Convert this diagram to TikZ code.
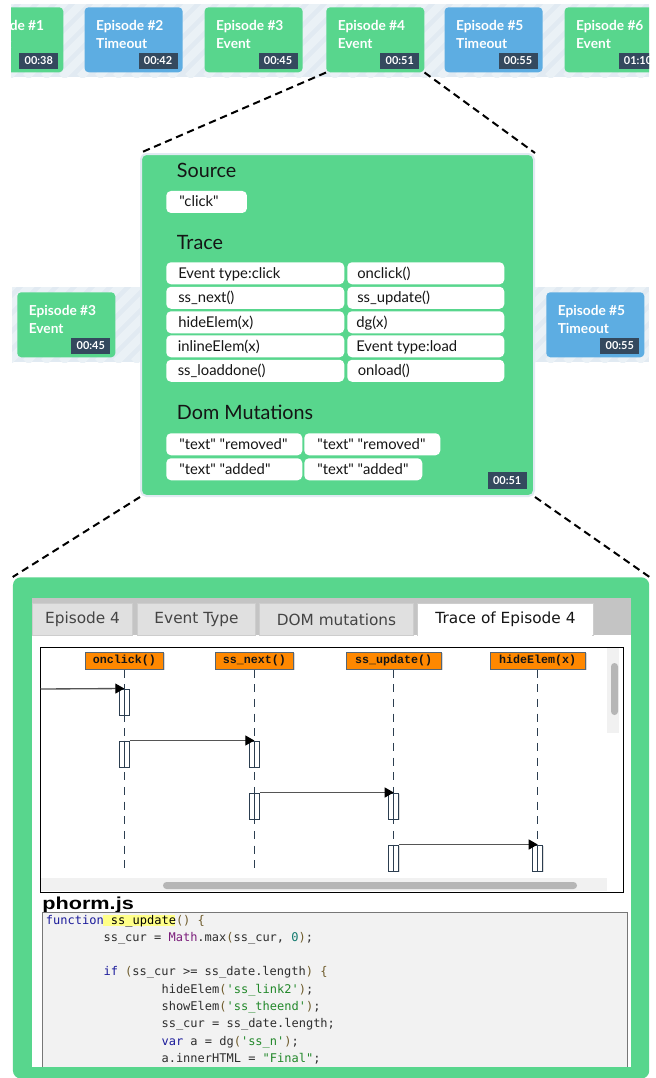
\documentclass[tikz,border=0pt]{standalone}
\usepackage{fontspec}
\setmainfont{Lato}[Ligatures=TeXOff]
\setmonofont{DejaVu Sans Mono}
\newfontfamily\tabfont{DejaVu Sans}
\newfontfamily\headmono{Liberation Mono}
\newfontfamily\filefont{Liberation Sans}
\usetikzlibrary{arrows.meta,shadows}

\definecolor{epgreen}{HTML}{58D68D}
\definecolor{epblue}{HTML}{5DADE2}
\definecolor{badge}{HTML}{34495E}
\definecolor{bandbase}{HTML}{E1EAF2}
\definecolor{bandstripe}{HTML}{EAF1F6}
\definecolor{ink}{HTML}{151515}
\definecolor{tabgray}{HTML}{C4C4C4}
\definecolor{tabfill}{HTML}{E0E0E0}
\definecolor{tabline}{HTML}{CDCDCD}
\definecolor{tabtext}{HTML}{444444}
\definecolor{headorange}{HTML}{FF8800}
\definecolor{slate}{HTML}{2C3E50}
\definecolor{msgline}{HTML}{555555}
\definecolor{track}{HTML}{F1F1F1}
\definecolor{thumb}{HTML}{B6B6B6}
\definecolor{codebg}{HTML}{F2F2F2}
\definecolor{codeedge}{HTML}{777777}
\definecolor{codekw}{HTML}{1B1B9B}
\definecolor{codeid}{HTML}{2E2E2E}
\definecolor{codepurple}{HTML}{7B1E7B}
\definecolor{codenum}{HTML}{127A6E}
\definecolor{codestr}{HTML}{22882A}
\definecolor{codepunct}{HTML}{6E5B2B}
\definecolor{hlyellow}{HTML}{FFFF88}

% light diagonal-striped strip behind a row of episode tiles
\newcommand\stripeband[4]{%
  \begin{scope}
    \clip (#1,#2) rectangle (#3,#4);
    \fill[bandbase] (#1,#2) rectangle (#3,#4);
    \foreach \s in {-100,-82,...,700}
      \draw[bandstripe, line width=6pt] (\s,#4) -- ++(90,-90);
  \end{scope}}

% episode tile: name, x, y, colour, title, kind, time
\newcommand\eptile[7]{%
  \node[tilebox, fill=#4] (#1) at (#2,#3) {};
  \node[tiletext] (#1-a) at ([shift={(11.5,23.5)}]#1.north west) {#5};
  \node[tiletext] (#1-b) at ([shift={(11.5,41.8)}]#1.north west) {#6};
  \node[badgebox] (#1-c) at ([shift={(-5,-3)}]#1.south east) {#7};}

% white rounded cell with its text: name, x, y, width, text offset, text
\newcommand\tcell[6]{%
  \node[cellbox, minimum width=#4] (#1) at (#2,#3) {};
  \node[celltext] (#1-t) at ([shift={(#5,16)}]#1.north west) {#6};}

\tikzset{
  tilebox/.style={rectangle, rounded corners=3pt, minimum width=73.5pt,
    minimum height=48.75pt, anchor=north west, inner sep=0pt},
  tiletext/.style={anchor=base west, inner sep=0pt, text=white,
    font=\fontsize{10.3pt}{12pt}\selectfont\bfseries},
  badgebox/.style={anchor=south east, fill=badge, text=white, inner sep=0pt,
    minimum width=29.25pt, minimum height=12.5pt,
    font=\fontsize{8.2pt}{10pt}\selectfont\bfseries},
  heading/.style={anchor=base west, inner sep=0pt, text=ink,
    font=\fontsize{14.8pt}{17pt}\selectfont},
  cellbox/.style={anchor=north west, fill=white, rounded corners=3.5pt,
    minimum height=16.5pt, inner sep=0pt},
  celltext/.style={anchor=base west, inner sep=0pt, text=ink,
    font=\fontsize{11.1pt}{13pt}\selectfont},
  zoomline/.style={black, line width=1.5pt, dash pattern=on 5.5pt off 3.5pt},
  tabbox/.style={anchor=north west, fill=tabfill, draw=tabline, line width=0.75pt,
    minimum height=24pt, inner sep=0pt, text=tabtext,
    font=\tabfont\fontsize{11.5pt}{13pt}\selectfont},
  lifehead/.style={fill=headorange, draw=slate!80, line width=0.75pt,
    minimum height=12.75pt, inner sep=0pt, text=ink,
    font=\headmono\bfseries\fontsize{8.75pt}{10pt}\selectfont,
    drop shadow={shadow xshift=1pt, shadow yshift=-1pt, fill=black!30}},
  lifeline/.style={slate, line width=0.75pt, dash pattern=on 6pt off 5pt},
  actbox/.style={fill=white, draw=slate, line width=0.75pt, minimum width=7.5pt,
    minimum height=19.5pt, inner sep=0pt,
    drop shadow={shadow xshift=0.8pt, shadow yshift=-0.8pt, fill=black!25}},
  actline/.style={slate, line width=0.75pt},
  msg/.style={msgline, line width=1pt,
    -{Triangle[length=6.75pt, width=7.5pt, color=black]}},
  codeline/.style={anchor=base west, inner sep=0pt, text=codeid,
    font=\ttfamily\fontsize{9pt}{11pt}\selectfont},
}

\begin{document}
\begin{tikzpicture}[x=0.75pt, y=-0.75pt]
\useasboundingbox (0,0) rectangle (656,1078);
\fill[white] (0,0) rectangle (656,1078);

% ---------- timeline of episodes ----------
\stripeband{11}{4}{649}{77}
\begin{scope}
  \clip (11,0) rectangle (649,80);
  \eptile{ep1}{-35}{7}{epgreen}{Episode \#1}{Event}{00:38}
  \eptile{ep2}{84.3}{7}{epblue}{Episode \#2}{Timeout}{00:42}
  \eptile{ep3}{204.3}{7}{epgreen}{Episode \#3}{Event}{00:45}
  \eptile{ep4}{326}{7}{epgreen}{Episode \#4}{Event}{00:51}
  \eptile{ep5}{444.3}{7}{epblue}{Episode \#5}{Timeout}{00:55}
  \eptile{ep6}{564.3}{7}{epgreen}{Episode \#6}{Event}{01:10}
\end{scope}

% ---------- neighbours of the selected episode ----------
\stripeband{12}{287}{649}{362}
\eptile{nb3}{17}{292}{epgreen}{Episode \#3}{Event}{00:45}
\eptile{nb5}{546}{292}{epblue}{Episode \#5}{Timeout}{00:55}

% ---------- detail card of episode 4 ----------
\node[rectangle, rounded corners=4pt, fill=epgreen, draw=bandbase, line width=1.5pt,
  minimum width=294.75pt, minimum height=256.5pt, anchor=north west, inner sep=0pt]
  (panel) at (140,153) {};

\node[heading] (srchead) at (176.7,177.5) {Source};
\tcell{src}{166}{190.7}{60.5pt}{13}{"click"}

\node[heading] (trhead) at (176.7,249.5) {Trace};
\tcell{t11}{166}{262}{133.5pt}{12}{Event type:click}
\tcell{t12}{347}{262}{117.75pt}{10}{onclick()}
\tcell{t21}{166}{286.5}{133.5pt}{12}{ss\_next()}
\tcell{t22}{347}{286.5}{117.75pt}{10}{ss\_update()}
\tcell{t31}{166}{311}{133.5pt}{12}{hideElem(x)}
\tcell{t32}{347}{311}{117.75pt}{9}{dg(x)}
\tcell{t41}{166}{335}{133.5pt}{11.5}{inlineElem(x)}
\tcell{t42}{347}{335}{117.75pt}{9}{Event type:load}
\tcell{t51}{166}{359.5}{133.5pt}{11.5}{ss\_loaddone()}
\tcell{t52}{347}{359.5}{117.75pt}{10.5}{onload()}

\node[heading] (domhead) at (176.7,419.5) {Dom Mutations};
\tcell{d11}{166}{433}{102pt}{13}{"text" "removed"}
\tcell{d12}{304}{433}{102pt}{13}{"text" "removed"}
\tcell{d21}{166}{458}{102pt}{13}{"text" "added"}
\tcell{d22}{304}{458}{88.5pt}{13}{"text" "added"}
\node[badgebox] (pbadge) at (527,489) {00:51};

% ---------- inspector window ----------
\node[rectangle, rounded corners=6pt, fill=epgreen, minimum width=477.2pt,
  minimum height=376pt, anchor=north west, inner sep=0pt] (frame) at (12.7,577) {};
\fill[white] (32,598) rectangle (631,1067);
\fill[tabgray] (32,598) rectangle (631,635);

\node[tabbox, minimum width=75pt] (tab1) at (32,603) {Episode 4\hspace{5pt}};
\node[tabbox, minimum width=88.5pt] (tab2) at (137,603) {Event Type};
\node[tabbox, minimum width=115.5pt] (tab3) at (259,603) {DOM mutations};
\node[tabbox, minimum width=132pt, fill=white, text=ink] (tab4) at (417,603) {Trace of Episode 4};
\fill[white] (417.8,632) rectangle (592.2,636);

% sequence diagram view
\node[rectangle, draw=black, line width=0.75pt, fill=white, anchor=north west,
  minimum width=437.25pt, minimum height=183.75pt, inner sep=0pt] (seq) at (40,647) {};
\fill[track] (607,648) rectangle (619,733);
\fill[thumb, rounded corners=2.6pt] (611,663) rectangle (618,715);
\fill[track] (41,878) rectangle (607,891);
\fill[thumb, rounded corners=2.6pt] (163,882) rectangle (577,889);

\node[lifehead, minimum width=58.5pt] (h1) at (124.3,660.5) {onclick()};
\node[lifehead, minimum width=58.5pt] (h2) at (254.3,660.5) {ss\_next()};
\node[lifehead, minimum width=71.25pt] (h3) at (393.7,660.5) {ss\_update()};
\node[lifehead, minimum width=71.25pt] (h4) at (537.7,660.5) {hideElem(x)};

\coordinate (e1) at (124.3,870);
\coordinate (e2) at (254.3,870);
\coordinate (e3) at (393.7,870);
\coordinate (e4) at (537.7,870);
\draw[lifeline] (h1.south) -- (e1);
\draw[lifeline] (h2.south) -- (e2);
\draw[lifeline] (h3.south) -- (e3);
\draw[lifeline] (h4.south) -- (e4);

\node[actbox] (a1) at (124.3,702) {};
\node[actbox] (a2) at (124.3,754) {};
\node[actbox] (b2) at (254.3,754) {};
\node[actbox] (b3) at (254.3,806) {};
\node[actbox] (c3) at (393.7,806) {};
\node[actbox] (c4) at (393.7,858) {};
\node[actbox] (d4) at (537.7,858) {};
\foreach \n in {a1,a2,b2,b3,c3,c4,d4}
  \draw[actline] (\n.north) -- (\n.south);

\coordinate (caller) at (40.5,689);
\draw[msg] (caller) -- (a1.north);
\draw[msg] (a2.north east) -- (b2.north);
\draw[msg] (b3.north east) -- (c3.north);
\draw[msg] (c4.north east) -- (d4.north);

% source listing
\node[anchor=base west, inner sep=0pt, font=\filefont\bfseries\fontsize{13pt}{15pt}\selectfont,
  xscale=1.25] (fname) at (42,909.3) {phorm.js};
\fill[codebg] (42,912) rectangle (627,1067);
\draw[codeedge, line width=0.75pt] (42,1067) -- (42,912) -- (627,912) -- (627,1067);
\fill[hlyellow] (102.7,914.5) rectangle (175.3,926);

\node[codeline] (l1) at (45.7,924) {{\color{codekw}function} {\color{black}ss\_update}{\color{codepunct}() \{}};
\node[codeline] (l2) at (103.3,941.3) {ss\_cur = {\color{codepurple}Math}.max{\color{codepunct}(}ss\_cur, {\color{codenum}0}{\color{codepunct})};};
\node[codeline] (l4) at (103.3,975.9) {{\color{codekw}if} {\color{codepunct}(}ss\_cur >= ss\_date.length{\color{codepunct})} {\color{codepunct}\{}};
\node[codeline] (l5) at (161.3,993.2) {hideElem{\color{codepunct}(}{\color{codestr}'ss\_link2'}{\color{codepunct})};};
\node[codeline] (l6) at (161.3,1010.5) {showElem{\color{codepunct}(}{\color{codestr}'ss\_theend'}{\color{codepunct})};};
\node[codeline] (l7) at (161.3,1027.8) {ss\_cur = ss\_date.length;};
\node[codeline] (l8) at (161.3,1045.1) {{\color{codekw}var} a = dg{\color{codepunct}(}{\color{codestr}'ss\_n'}{\color{codepunct})};};
\node[codeline] (l9) at (161.3,1062.4) {a.innerHTML = {\color{codestr}"Final"};};

% ---------- zoom connectors ----------
\draw[zoomline] (ep4.south west) -- (panel.north west);
\draw[zoomline] (ep4.south east) -- (panel.north east);
\draw[zoomline] (panel.south west) -- (frame.north west);
\draw[zoomline] (panel.south east) -- (frame.north east);
\end{tikzpicture}
\end{document}
